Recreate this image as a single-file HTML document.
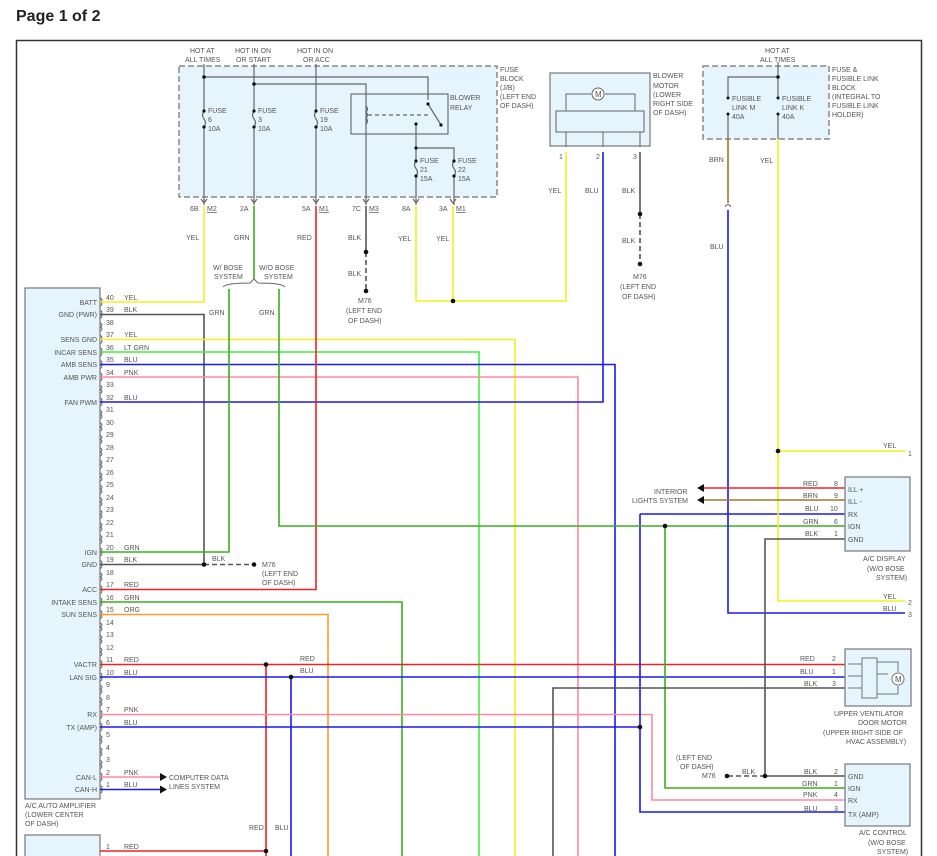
<!DOCTYPE html>
<html><head><meta charset="utf-8"><style>
body{margin:0;background:#fff;width:937px;height:856px;overflow:hidden}
svg{position:absolute;left:0;top:0}
text{font-family:"Liberation Sans",sans-serif;font-size:7px;fill:#555}
.t{font-size:16px;font-weight:bold;fill:#222}
.w{fill:none;stroke-width:1.6}
.b{fill:#e6f4fd;stroke:#777;stroke-width:1.2}
.d{fill:#e6f4fd;stroke:#888;stroke-width:1.5;stroke-dasharray:6 3}
.k{stroke:#555}.y{stroke:#f2f21a}.g{stroke:#3aae1e}.lg{stroke:#44ee44}.u{stroke:#1a1aee}.p{stroke:#ff8aa0}.r{stroke:#ee2222}.o{stroke:#ff9a30}.n{stroke:#9c7a2a}
.e{text-anchor:end}
</style></head><body>
<svg width="937" height="856" viewBox="0 0 937 856">
<defs><pattern id="pc" x="99" y="297.5" width="6" height="12.5" patternUnits="userSpaceOnUse"><path d="M1.5 0.5Q4.5 2.5 1.5 4.5Q4.5 6.5 1.5 8.5" fill="none" stroke="#555" stroke-width="0.9"/></pattern></defs>
<text x="16" y="21" class="t">Page 1 of 2</text>
<path d="M16.5 860V40.5H921.5V860" fill="none" stroke="#333" stroke-width="1.5"/>

<!-- fuse block -->
<rect x="179" y="66" width="318" height="131" class="d"/>
<rect x="351" y="94" width="97" height="40" fill="#e6f4fd" stroke="#555"/>
<g fill="none" stroke="#666" stroke-width="1.2">
<path d="M204 64V111M204 127V205M254 64V111M254 127V205M316 64V111M316 127V205M204 77H428V100M254 84H366V205"/>
<path d="M204 111q-3 4 0 8q3 4 0 8M254 111q-3 4 0 8q3 4 0 8M316 111q-3 4 0 8q3 4 0 8M416 161q-3 4 0 7.5q3 4 0 7.5M454 161q-3 4 0 7.5q3 4 0 7.5M728 98q-3 4 0 8q3 4 0 8M778 98q-3 4 0 8q3 4 0 8"/>
<path d="M428 104L441 125"/>
<path d="M368 115H428" stroke-dasharray="4 3"/>
<path d="M416 124V161M416 176V205M416 148H454V161M454 176V205"/>
<path d="M201 199L204 203L207 199M251 199L254 203L257 199M313 199L316 203L319 199M363 199L366 203L369 199M413 199L416 203L419 199M450 199L453 203L456 199"/>
<path d="M366 106q3 3 0 6q3 3 0 6q3 3 0 6"/>
</g>
<g fill="#111"><circle cx="204" cy="77" r="1.8"/><circle cx="254" cy="84" r="1.8"/><circle cx="204" cy="111" r="1.6"/><circle cx="204" cy="127" r="1.6"/><circle cx="254" cy="111" r="1.6"/><circle cx="254" cy="127" r="1.6"/><circle cx="316" cy="111" r="1.6"/><circle cx="316" cy="127" r="1.6"/><circle cx="428" cy="104" r="1.6"/><circle cx="441" cy="125" r="1.6"/><circle cx="416" cy="124" r="1.6"/><circle cx="416" cy="148" r="1.6"/><circle cx="416" cy="161" r="1.6"/><circle cx="416" cy="176" r="1.6"/><circle cx="454" cy="161" r="1.6"/><circle cx="454" cy="176" r="1.6"/></g>
<text x="190" y="53">HOT AT</text><text x="185" y="62">ALL TIMES</text>
<text x="235" y="53">HOT IN ON</text><text x="236" y="62">OR START</text>
<text x="297" y="53">HOT IN ON</text><text x="303" y="62">OR ACC</text>
<text x="208" y="113">FUSE</text><text x="208" y="122">6</text><text x="208" y="131">10A</text>
<text x="258" y="113">FUSE</text><text x="258" y="122">3</text><text x="258" y="131">10A</text>
<text x="320" y="113">FUSE</text><text x="320" y="122">19</text><text x="320" y="131">10A</text>
<text x="450" y="100">BLOWER</text><text x="450" y="110">RELAY</text>
<text x="420" y="163">FUSE</text><text x="420" y="172">21</text><text x="420" y="181">15A</text>
<text x="458" y="163">FUSE</text><text x="458" y="172">22</text><text x="458" y="181">15A</text>
<text x="500" y="72">FUSE</text><text x="500" y="81">BLOCK</text><text x="500" y="90">(J/B)</text><text x="500" y="99">(LEFT END</text><text x="500" y="108">OF DASH)</text>
<text x="190" y="211">6B</text><text x="207" y="211" text-decoration="underline">M2</text>
<text x="240" y="211">2A</text>
<text x="302" y="211">5A</text><text x="319" y="211" text-decoration="underline">M1</text>
<text x="352" y="211">7C</text><text x="369" y="211" text-decoration="underline">M3</text>
<text x="402" y="211">8A</text><text x="439" y="211">3A</text><text x="456" y="211" text-decoration="underline">M1</text>

<!-- blower motor -->
<rect x="550" y="73" width="100" height="73" class="b"/>
<rect x="556" y="111" width="88" height="21" fill="#e6f4fd" stroke="#666"/>
<path d="M566 111V94H591M605 94H635V111M566 132V147M603 132V147M640 132V147" fill="none" stroke="#666"/>
<circle cx="598" cy="94" r="6" fill="#fff" stroke="#666"/><text x="595" y="97" style="font-size:8px">M</text>
<text x="653" y="78">BLOWER</text><text x="653" y="88">MOTOR</text><text x="653" y="97">(LOWER</text><text x="653" y="106">RIGHT SIDE</text><text x="653" y="115">OF DASH)</text>
<text x="559" y="159">1</text><text x="596" y="159">2</text><text x="633" y="159">3</text>

<!-- fusible link block -->
<rect x="703" y="66" width="126" height="73" class="d"/>
<path d="M778 62V98M778 114V139M778 77H728V98M728 114V139" fill="none" stroke="#666" stroke-width="1.2"/>
<g fill="#111"><circle cx="778" cy="77" r="1.8"/><circle cx="728" cy="98" r="1.5"/><circle cx="728" cy="114" r="1.5"/><circle cx="778" cy="98" r="1.5"/><circle cx="778" cy="114" r="1.5"/></g>
<text x="765" y="53">HOT AT</text><text x="760" y="62">ALL TIMES</text>
<text x="732" y="101">FUSIBLE</text><text x="732" y="110">LINK M</text><text x="732" y="119">40A</text>
<text x="782" y="101">FUSIBLE</text><text x="782" y="110">LINK K</text><text x="782" y="119">40A</text>
<text x="832" y="72">FUSE &amp;</text><text x="832" y="81">FUSIBLE LINK</text><text x="832" y="90">BLOCK</text><text x="832" y="99">(INTEGRAL TO</text><text x="832" y="108">FUSIBLE LINK</text><text x="832" y="117">HOLDER)</text>

<!-- amplifier -->
<rect x="25" y="288" width="75" height="511" class="b"/>
<rect x="25" y="835" width="75" height="30" class="b"/>
<rect x="99" y="297.5" width="6" height="500" fill="url(#pc)"/>
<text x="25" y="808">A/C AUTO AMPLIFIER</text><text x="25" y="817">(LOWER CENTER</text><text x="25" y="826">OF DASH)</text>

<!-- wires -->
<g class="w">
<path class="y" d="M100 302H204V206"/>
<path class="k" d="M100 314.5H204V564.5"/>
<path class="y" d="M100 339.5H515V860"/>
<path class="lg" d="M100 352H479V860"/>
<path class="u" d="M100 364.5H615V860"/>
<path class="p" d="M100 377H578V860"/>
<path class="u" d="M100 402H603V152"/>
<path class="g" d="M100 552H229V289"/>
<path class="k" d="M100 564.5H204"/>
<path class="r" d="M100 589.5H316V206"/>
<path class="g" d="M100 602H402V860"/>
<path class="o" d="M100 614.5H328V860"/>
<path class="r" d="M100 664.5H845M266 664.5V860"/>
<path class="u" d="M100 677H845M291 677V860"/>
<path class="p" d="M100 714.5H652V800H845"/>
<path class="u" d="M100 727H640"/>
<path class="u" d="M640 514H845M640 514V812H845"/>
<path class="p" d="M100 777H160"/>
<path class="u" d="M100 789.5H160"/>
<path class="r" d="M100 851H266"/>
<path class="g" d="M254 206V279"/>
<path class="g" d="M279 289V526H845M665 526V788H845"/>
<path class="k" d="M366 206V252"/>
<path class="y" d="M416 206V301H566V152"/>
<path class="y" d="M453 206V301"/>
<path class="k" d="M640 152V214"/>
<path class="n" d="M728 139V203"/>
<path class="u" d="M728 210V613H905"/>
<path class="y" d="M778 139V601H905M778 451H905"/>
<path class="r" d="M700 488H845"/>
<path class="n" d="M700 500H845"/>
<path class="k" d="M845 539H765V776H845"/>
<path class="k" d="M845 688H553V860"/>
</g>
<g fill="none" stroke="#555" stroke-width="1.6" stroke-dasharray="5 3">
<path d="M204 564.5H252"/><path d="M366 252V292"/><path d="M640 214V262"/><path d="M765 776H727"/>
</g>
<path d="M223 287Q226 283 250 283L254 279L258 283Q282 283 285 287" fill="none" stroke="#666"/>
<path d="M725 207Q728 202 731 207" fill="none" stroke="#666"/>
<g fill="#111">
<circle cx="204" cy="564.5" r="2.3"/><circle cx="266" cy="664.5" r="2.3"/><circle cx="291" cy="677" r="2.3"/><circle cx="640" cy="727" r="2.3"/><circle cx="266" cy="851" r="2.3"/>
<circle cx="366" cy="252" r="2.3"/><circle cx="366" cy="291" r="2.3"/><circle cx="453" cy="301" r="2.3"/><circle cx="640" cy="214" r="2.3"/><circle cx="640" cy="264" r="2.3"/>
<circle cx="778" cy="451" r="2.3"/><circle cx="665" cy="526" r="2.3"/><circle cx="765" cy="776" r="2.3"/><circle cx="727" cy="776" r="2.3"/><circle cx="254" cy="564.5" r="2.3"/>
<path d="M160 773L167 777L160 781Z"/><path d="M160 785.5L167 789.5L160 793.5Z"/>
<path d="M697 488L704 484V492Z"/><path d="M697 500L704 496V504Z"/>
</g>
<!-- amp pin labels -->
<g>
<text x="106" y="300">40</text><text x="124" y="300">YEL</text><text x="97" y="305" class="e">BATT</text>
<text x="106" y="312">39</text><text x="124" y="312">BLK</text><text x="97" y="317" class="e">GND (PWR)</text>
<text x="106" y="325">38</text>
<text x="106" y="337">37</text><text x="124" y="337">YEL</text><text x="97" y="342" class="e">SENS GND</text>
<text x="106" y="350">36</text><text x="124" y="350">LT GRN</text><text x="97" y="355" class="e">INCAR SENS</text>
<text x="106" y="362">35</text><text x="124" y="362">BLU</text><text x="97" y="367" class="e">AMB SENS</text>
<text x="106" y="375">34</text><text x="124" y="375">PNK</text><text x="97" y="380" class="e">AMB PWR</text>
<text x="106" y="387">33</text>
<text x="106" y="400">32</text><text x="124" y="400">BLU</text><text x="97" y="405" class="e">FAN PWM</text>
<text x="106" y="412">31</text><text x="106" y="425">30</text><text x="106" y="437">29</text><text x="106" y="450">28</text><text x="106" y="462">27</text><text x="106" y="475">26</text><text x="106" y="487">25</text><text x="106" y="500">24</text><text x="106" y="512">23</text><text x="106" y="525">22</text><text x="106" y="537">21</text>
<text x="106" y="550">20</text><text x="124" y="550">GRN</text><text x="97" y="555" class="e">IGN</text>
<text x="106" y="562">19</text><text x="124" y="562">BLK</text><text x="97" y="567" class="e">GND</text>
<text x="106" y="575">18</text>
<text x="106" y="587">17</text><text x="124" y="587">RED</text><text x="97" y="592" class="e">ACC</text>
<text x="106" y="600">16</text><text x="124" y="600">GRN</text><text x="97" y="605" class="e">INTAKE SENS</text>
<text x="106" y="612">15</text><text x="124" y="612">ORG</text><text x="97" y="617" class="e">SUN SENS</text>
<text x="106" y="625">14</text><text x="106" y="637">13</text><text x="106" y="650">12</text>
<text x="106" y="662">11</text><text x="124" y="662">RED</text><text x="97" y="667" class="e">VACTR</text>
<text x="106" y="675">10</text><text x="124" y="675">BLU</text><text x="97" y="680" class="e">LAN SIG</text>
<text x="106" y="687">9</text><text x="106" y="700">8</text>
<text x="106" y="712">7</text><text x="124" y="712">PNK</text><text x="97" y="717" class="e">RX</text>
<text x="106" y="725">6</text><text x="124" y="725">BLU</text><text x="97" y="730" class="e">TX (AMP)</text>
<text x="106" y="737">5</text><text x="106" y="750">4</text><text x="106" y="762">3</text>
<text x="106" y="775">2</text><text x="124" y="775">PNK</text><text x="97" y="780" class="e">CAN-L</text>
<text x="106" y="787">1</text><text x="124" y="787">BLU</text><text x="97" y="792" class="e">CAN-H</text>
<text x="106" y="849">1</text><text x="124" y="849">RED</text>
</g>
<text x="169" y="780">COMPUTER DATA</text><text x="169" y="789">LINES SYSTEM</text>
<!-- wire labels -->
<text x="186" y="240">YEL</text><text x="234" y="240">GRN</text><text x="297" y="240">RED</text><text x="348" y="240">BLK</text><text x="348" y="276">BLK</text><text x="398" y="241">YEL</text><text x="436" y="241">YEL</text>
<text x="213" y="270">W/ BOSE</text><text x="214" y="279">SYSTEM</text><text x="259" y="270">W/O BOSE</text><text x="264" y="279">SYSTEM</text>
<text x="209" y="315">GRN</text><text x="259" y="315">GRN</text>
<text x="358" y="303">M76</text><text x="346" y="313">(LEFT END</text><text x="348" y="323">OF DASH)</text>
<text x="212" y="561">BLK</text><text x="262" y="567">M76</text><text x="262" y="576">(LEFT END</text><text x="262" y="585">OF DASH)</text>
<text x="300" y="661">RED</text><text x="300" y="673">BLU</text><text x="249" y="830">RED</text><text x="275" y="830">BLU</text>
<text x="548" y="193">YEL</text><text x="585" y="193">BLU</text><text x="622" y="193">BLK</text><text x="622" y="243">BLK</text>
<text x="633" y="279">M76</text><text x="620" y="289">(LEFT END</text><text x="622" y="299">OF DASH)</text>
<text x="709" y="162">BRN</text><text x="760" y="163">YEL</text><text x="710" y="249">BLU</text>
<text x="883" y="448">YEL</text><text x="908" y="456">1</text>
<text x="883" y="599">YEL</text><text x="908" y="605">2</text><text x="883" y="611">BLU</text><text x="908" y="617">3</text>
<text x="654" y="494">INTERIOR</text><text x="632" y="503">LIGHTS SYSTEM</text>
<!-- A/C display -->
<rect x="845" y="477" width="65" height="74" class="b"/>
<text x="803" y="486">RED</text><text x="834" y="486">8</text><text x="848" y="492">ILL +</text>
<text x="803" y="498">BRN</text><text x="834" y="498">9</text><text x="848" y="504">ILL -</text>
<text x="805" y="511">BLU</text><text x="830" y="511">10</text><text x="848" y="517">RX</text>
<text x="803" y="524">GRN</text><text x="834" y="524">6</text><text x="848" y="529">IGN</text>
<text x="805" y="536">BLK</text><text x="834" y="536">1</text><text x="848" y="542">GND</text>
<text x="863" y="561">A/C DISPLAY</text><text x="867" y="571">(W/O BOSE</text><text x="876" y="580">SYSTEM)</text>
<!-- upper vent -->
<rect x="845" y="649" width="66" height="57" class="b"/>
<rect x="862" y="658" width="15" height="40" fill="#e6f4fd" stroke="#777"/>
<path d="M877 662H898V672M877 674H888M877 694H898V686M848 664H862M848 676H862M848 688H862" fill="none" stroke="#777"/>
<circle cx="898" cy="679" r="6" fill="#fff" stroke="#777"/><text x="895" y="682" style="font-size:8px">M</text>
<text x="800" y="661">RED</text><text x="832" y="661">2</text>
<text x="800" y="674">BLU</text><text x="832" y="674">1</text>
<text x="804" y="686">BLK</text><text x="832" y="686">3</text>
<text x="834" y="716">UPPER VENTILATOR</text><text x="858" y="725">DOOR MOTOR</text><text x="823" y="735">(UPPER RIGHT SIDE OF</text><text x="846" y="744">HVAC ASSEMBLY)</text>
<!-- A/C control -->
<rect x="845" y="764" width="65" height="62" class="b"/>
<text x="676" y="760">(LEFT END</text><text x="680" y="769">OF DASH)</text><text x="702" y="778">M76</text><text x="742" y="774">BLK</text>
<text x="804" y="774">BLK</text><text x="834" y="774">2</text><text x="848" y="779">GND</text>
<text x="802" y="786">GRN</text><text x="834" y="786">1</text><text x="848" y="791">IGN</text>
<text x="803" y="797">PNK</text><text x="834" y="797">4</text><text x="848" y="803">RX</text>
<text x="804" y="811">BLU</text><text x="834" y="811">3</text><text x="848" y="817">TX (AMP)</text>
<text x="859" y="835">A/C CONTROL</text><text x="868" y="845">(W/O BOSE</text><text x="877" y="854">SYSTEM)</text>
</svg>
</body></html>
